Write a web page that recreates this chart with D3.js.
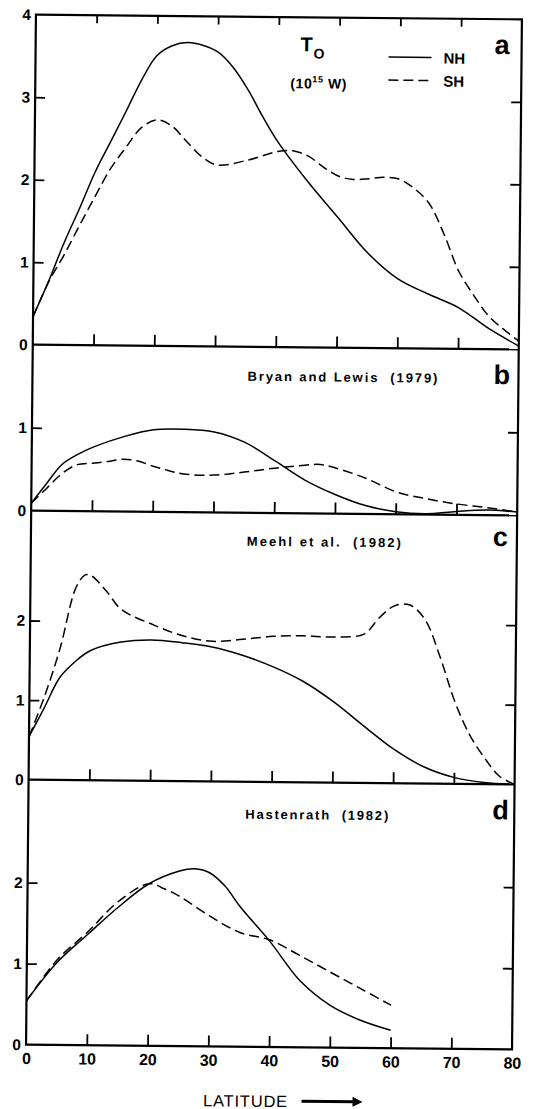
<!DOCTYPE html>
<html><head><meta charset="utf-8">
<script src="https://cdn.jsdelivr.net/npm/d3@7"></script>
<style>html,body{margin:0;padding:0;background:#fff;} svg{display:block;}</style>
</head><body>
<svg id="chart" width="536" height="1109"></svg>
<script>
// ---------- DATA ----------
const latTicks = [0, 10, 20, 30, 40, 50, 60, 70, 80];
const latTickLabels = ["0", "10", "20", "30", "40", "50", "60", "70", "80"];
const innerLatTicks = [10, 20, 30, 40, 50, 60, 70];

// Panel a: T_O (10^15 W)
const aNHLat = [0, 2.5, 5, 7.5, 10, 12.5, 15, 17.5, 20, 22.5, 25, 27.5, 30, 32.5, 35, 37.5, 40, 45, 50, 55, 60, 65, 70, 75, 80];
const aNHVal = [0.34, 0.77, 1.24, 1.66, 2.10, 2.47, 2.84, 3.22, 3.52, 3.64, 3.68, 3.65, 3.57, 3.39, 3.12, 2.79, 2.49, 2.01, 1.58, 1.15, 0.84, 0.66, 0.50, 0.25, 0.04];
const aSHLat = [0, 2.5, 5, 7.5, 10, 12.5, 15, 17.5, 20, 22.5, 25, 27.5, 30, 35, 40, 42.5, 45, 47.5, 50, 52.5, 55, 57.5, 60, 62.5, 65, 67.5, 70, 72.5, 75, 77.5, 80];
const aSHVal = [0.34, 0.76, 1.09, 1.45, 1.80, 2.14, 2.40, 2.64, 2.74, 2.67, 2.48, 2.30, 2.20, 2.26, 2.37, 2.38, 2.32, 2.19, 2.08, 2.04, 2.05, 2.07, 2.05, 1.94, 1.76, 1.39, 0.94, 0.65, 0.40, 0.24, 0.10];

// Panel b: Bryan and Lewis (1979)
const bNHLat = [0, 2.5, 5, 7.5, 10, 15, 20, 25, 30, 35, 40, 45, 50, 55, 60, 65, 70, 75, 80];
const bNHVal = [0.09, 0.33, 0.56, 0.68, 0.77, 0.90, 0.99, 1.00, 0.97, 0.85, 0.63, 0.40, 0.23, 0.10, 0.03, 0.01, 0.04, 0.06, 0.04];
const bSHLat = [0, 2.5, 5, 7.5, 10, 12.5, 15, 17.5, 20, 22.5, 25, 30, 35, 40, 45, 47.5, 50, 55, 60, 65, 70, 75, 80];
const bSHVal = [0.09, 0.27, 0.45, 0.56, 0.58, 0.60, 0.63, 0.61, 0.55, 0.50, 0.46, 0.45, 0.49, 0.54, 0.58, 0.59, 0.55, 0.43, 0.27, 0.19, 0.13, 0.09, 0.04];

// Panel c: Meehl et al. (1982)
const cNHLat = [0, 2.5, 5, 7.5, 10, 15, 20, 25, 30, 35, 40, 45, 50, 55, 60, 65, 70, 75, 80];
const cNHVal = [0.54, 0.91, 1.29, 1.49, 1.63, 1.74, 1.77, 1.74, 1.69, 1.59, 1.45, 1.27, 1.02, 0.72, 0.43, 0.21, 0.08, 0.02, 0.0];
const cSHLat = [0, 2.5, 5, 7.5, 9, 10, 12.5, 15, 20, 25, 30, 35, 40, 45, 50, 55, 57.5, 60, 62.5, 65, 67.5, 70, 72.5, 75, 77.5, 80];
const cSHVal = [0.54, 1.05, 1.66, 2.42, 2.58, 2.57, 2.38, 2.15, 1.97, 1.83, 1.76, 1.79, 1.83, 1.84, 1.83, 1.87, 2.08, 2.23, 2.24, 2.06, 1.60, 1.04, 0.62, 0.33, 0.10, 0.0];

// Panel d: Hastenrath (1982)
const dNHLat = [0, 5, 10, 15, 20, 25, 27.5, 30, 32.5, 35, 40, 45, 50, 55, 60];
const dNHVal = [0.54, 1.02, 1.37, 1.71, 2.00, 2.16, 2.19, 2.14, 1.98, 1.73, 1.30, 0.82, 0.52, 0.34, 0.22];
const dSHLat = [0, 5, 10, 15, 20, 22.5, 25, 30, 35, 40, 45, 50, 55, 60];
const dSHVal = [0.54, 1.05, 1.40, 1.78, 2.00, 1.94, 1.85, 1.61, 1.41, 1.32, 1.13, 0.93, 0.73, 0.53];

const panelIds = ["a", "b", "c", "d"];
const panelYMax = [4, 2, 3.38, 3.27];
const panelLabelTicks = [[0, 1, 2, 3, 4], [0, 1], [0, 1, 2], [0, 1, 2]];
const panelInnerTicks = [[1, 2, 3], [1], [1, 2], [1, 2]];
const panelCitations = ["", "Bryan and Lewis  (1979)", "Meehl et al.  (1982)", "Hastenrath  (1982)"];
const seriesNames = ["NH", "SH"];

// ---------- LAYOUT ----------
const L = 31, R = 517;
const panelBox = [[17, 347], [347, 513], [513, 782], [782, 1047]]; // [top, bottom]
const citePos = [null, [246, 381], [247, 546], [248, 819]];
const citeWidth = [null, 190, 154, 143];
const letterPos = [[490, 52], [492, 382], [493, 544], [495, 817]];
const FONT = "'Liberation Sans', Arial, Helvetica, sans-serif";

const svg = d3.select("#chart");
svg.append("rect").attr("width", 536).attr("height", 1109).attr("fill", "#fff");
const root = svg.append("g").attr("transform", "rotate(0.55,272,530)");

const x = d3.scaleLinear().domain([0, 80]).range([L, R]);

const series = {
  a: [[aNHLat, aNHVal], [aSHLat, aSHVal]],
  b: [[bNHLat, bNHVal], [bSHLat, bSHVal]],
  c: [[cNHLat, cNHVal], [cSHLat, cSHVal]],
  d: [[dNHLat, dNHVal], [dSHLat, dSHVal]]
};

function styleAxis(g, width) {
  g.select(".domain").remove();
  g.selectAll(".tick line").attr("stroke", "#000").attr("stroke-width", width);
}

panelIds.forEach((id, i) => {
  const [top, bottom] = panelBox[i];
  const y = d3.scaleLinear().domain([0, panelYMax[i]]).range([bottom, top]);
  const g = root.append("g").attr("class", "panel-" + id);

  // labels on left
  const lab = g.append("g").attr("transform", `translate(${L},0)`)
    .call(d3.axisLeft(y).tickValues(panelLabelTicks[i]).tickSize(0).tickPadding(5).tickFormat(d3.format("d")));
  lab.select(".domain").remove();
  lab.selectAll("text").attr("font-family", FONT).attr("font-size", 15.5).attr("font-weight", "bold").attr("fill", "#000");

  // inward ticks left
  g.append("g").attr("transform", `translate(${L},0)`)
    .call(d3.axisRight(y).tickValues(panelInnerTicks[i]).tickSize(10).tickFormat(""))
    .call(a => styleAxis(a, 1.8));
  // inward ticks right
  g.append("g").attr("transform", `translate(${R},0)`)
    .call(d3.axisLeft(y).tickValues(panelInnerTicks[i]).tickSize(10).tickFormat(""))
    .call(a => styleAxis(a, 1.8));
  // bottom ticks pointing up
  g.append("g").attr("transform", `translate(0,${bottom})`)
    .call(d3.axisTop(x).tickValues(innerLatTicks).tickSize(11).tickFormat(""))
    .call(a => styleAxis(a, 1.8));
  if (i === 0) {
    g.append("g").attr("transform", `translate(0,${top})`)
      .call(d3.axisBottom(x).tickValues(innerLatTicks).tickSize(8).tickFormat(""))
      .call(a => styleAxis(a, 1.8));
  }

  // data lines
  const line = d3.line().x(d => x(d[0])).y(d => y(d[1])).curve(d3.curveCatmullRom.alpha(0.5));
  series[id].forEach((s, k) => {
    const pts = s[0].map((lat, j) => [lat, s[1][j]]);
    g.append("path").datum(pts).attr("d", line)
      .attr("fill", "none").attr("stroke", "#000").attr("stroke-width", 1.5)
      .attr("stroke-dasharray", k === 1 ? "10,5" : null)
      .attr("stroke-linejoin", "round");
  });

  // panel letter
  g.append("text").attr("x", letterPos[i][0]).attr("y", letterPos[i][1])
    .attr("font-family", FONT).attr("font-size", 27).attr("font-weight", "bold").text(id);

  // citation
  if (panelCitations[i]) {
    g.append("text").attr("x", citePos[i][0]).attr("y", citePos[i][1])
      .attr("font-family", FONT).attr("font-size", 13).attr("font-weight", "bold")
      .attr("textLength", citeWidth[i]).attr("lengthAdjust", "spacing")
      .style("white-space", "pre")
      .text(panelCitations[i]);
  }
});

// frame and panel separators
root.append("rect").attr("x", L).attr("y", panelBox[0][0]).attr("width", R - L)
  .attr("height", panelBox[3][1] - panelBox[0][0])
  .attr("fill", "none").attr("stroke", "#000").attr("stroke-width", 2.2);
panelBox.slice(0, 3).forEach(b => {
  root.append("line").attr("x1", L).attr("x2", R).attr("y1", b[1]).attr("y2", b[1])
    .attr("stroke", "#000").attr("stroke-width", 2.2);
});

// x axis labels
const xl = root.append("g").attr("transform", `translate(0,${panelBox[3][1]})`)
  .call(d3.axisBottom(x).tickValues(latTicks).tickSize(0).tickPadding(8)
    .tickFormat((d, i) => latTickLabels[i]));
xl.select(".domain").remove();
xl.selectAll("text").attr("font-family", FONT).attr("font-size", 16).attr("font-weight", "bold").attr("fill", "#000");

// x title with arrow
root.append("text").attr("x", 251).attr("y", 1107).attr("text-anchor", "middle")
  .attr("font-family", FONT).attr("font-size", 16.5).attr("letter-spacing", 0.8).text("LATITUDE");
root.append("line").attr("x1", 307).attr("x2", 360).attr("y1", 1101).attr("y2", 1101)
  .attr("stroke", "#000").attr("stroke-width", 3);
root.append("path").attr("d", "M358,1096 L368,1101 L358,1106 Z").attr("fill", "#000");

// legend (panel a)
const lg = root.append("g");
lg.append("text").attr("x", 296).attr("y", 51).attr("font-family", FONT).attr("font-size", 20)
  .attr("font-weight", "bold").text("T");
lg.append("text").attr("x", 309).attr("y", 58).attr("font-family", FONT).attr("font-size", 14)
  .attr("font-weight", "bold").text("O");
const unit = lg.append("text").attr("x", 286).attr("y", 88).attr("font-family", FONT)
  .attr("font-size", 14).attr("font-weight", "bold").attr("letter-spacing", 0.6);
unit.append("tspan").text("(10");
unit.append("tspan").attr("dy", -6).attr("font-size", 9).text("15");
unit.append("tspan").attr("dy", 6).text(" W)");
seriesNames.forEach((nm, k) => {
  const yy = 56 + k * 23;
  lg.append("line").attr("x1", 384).attr("x2", 427).attr("y1", yy).attr("y2", yy)
    .attr("stroke", "#000").attr("stroke-width", 1.5)
    .attr("stroke-dasharray", k === 1 ? "10,5" : null);
  lg.append("text").attr("x", 439).attr("y", yy + 6).attr("font-family", FONT)
    .attr("font-size", 15).attr("font-weight", "bold").text(nm);
});
</script>
</body></html>
